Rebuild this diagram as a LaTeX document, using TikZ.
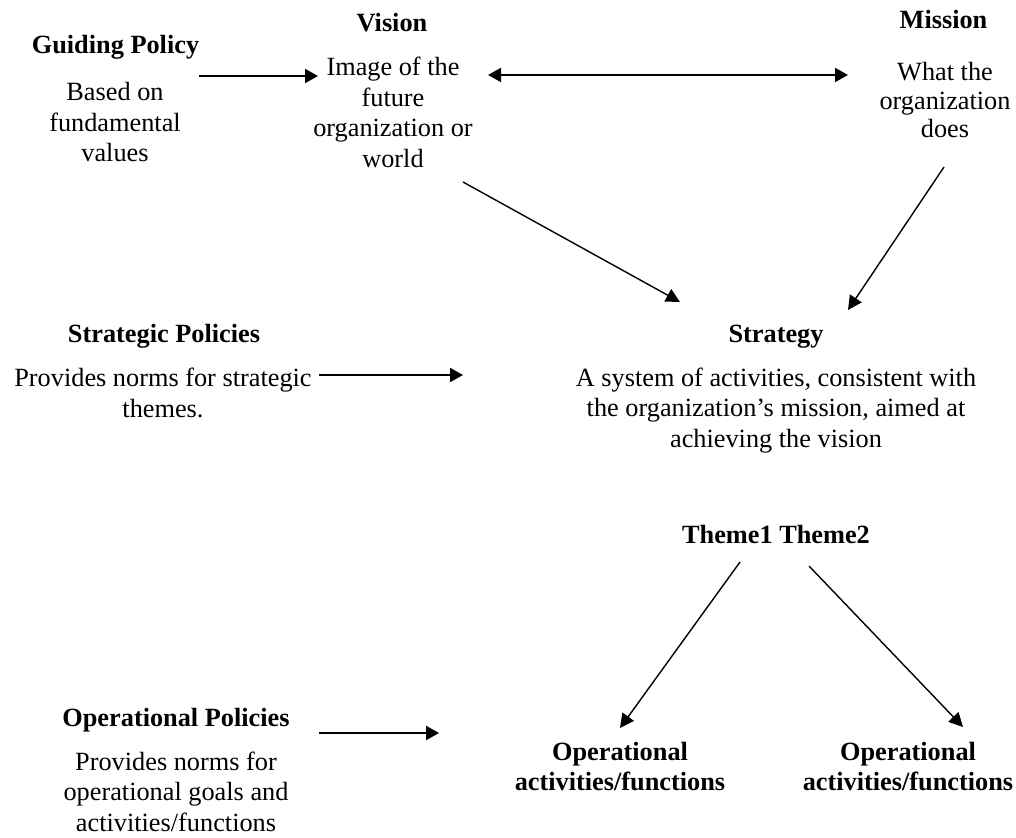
\documentclass[tikz,border=0pt]{standalone}
\usepackage{fontspec}
\setmainfont{Liberation Serif}
\usetikzlibrary{arrows.meta}
\begin{document}
\begin{tikzpicture}[x=1pt,y=-1pt,
  % multi-line nodes sit on the baseline of their last line
  txt/.style={anchor=base, align=center, inner sep=0pt,
    font=\fontsize{26.3}{30.5}\selectfont},
  tighttxt/.style={txt, font=\fontsize{26.3}{28.5}\selectfont},
  head/.style={txt, font=\fontsize{26.3}{30}\selectfont\bfseries},
  link/.style={-{Triangle[length=13pt,width=14pt]}, line width=2pt},
  twoway/.style={{Triangle[length=13pt,width=14pt]}-{Triangle[length=13pt,width=14pt]}, line width=2pt},
  slant/.style={-{Triangle[length=14pt,width=14pt]}, line width=1.4pt}]
\useasboundingbox (0,0) rectangle (1016,837);

% top row: guiding policy, vision, mission
\node[head] (gp)  at (115.5,54) {Guiding Policy};
\node[txt]  (gpt) at (115,162) {Based on\\fundamental\\values};
\node[head] (vis)  at (392,32) {Vision};
\node[txt]  (vist) at (393,167.5) {Image of the\\future\\organization or\\world};
\node[head] (mis)  at (943.5,29) {Mission};
\node[tighttxt] (mist) at (945,138) {What the\\organization\\does};

% middle row: strategic policies and strategy
\node[head] (sp)  at (164,342) {Strategic Policies};
\node[txt]  (spt) at (163,417) {Provides norms for strategic\\themes.};
\node[head] (st)  at (776,342) {Strategy};
\node[txt]  (stt) at (776,447) {A system of activities, consistent with\\the organization’s mission, aimed at\\achieving the vision};

% themes
\node[head] (th) at (776,543) {Theme1 Theme2};

% bottom row: operational policies and activities
\node[head] (op)  at (176,726) {Operational Policies};
\node[txt]  (opt) at (176,831) {Provides norms for\\operational goals and\\activities/functions};
\node[head] (oa1) at (620,790) {Operational\\activities/functions};
\node[head] (oa2) at (908,790) {Operational\\activities/functions};

% connector ends
\coordinate (gpR)  at (199,76);
\coordinate (visL) at (318,76);
\coordinate (visR) at (488,75);
\coordinate (misL) at (848,75);
\coordinate (visB) at (463,182);
\coordinate (stTL) at (680,302);
\coordinate (misB) at (944,167);
\coordinate (stTR) at (848,310);
\coordinate (spR)  at (319,375);
\coordinate (stL)  at (463,375);
\coordinate (th1)  at (740,562);
\coordinate (oa1T) at (620,728);
\coordinate (th2)  at (809,566);
\coordinate (oa2T) at (963,727);
\coordinate (opR)  at (319,733);
\coordinate (oaL)  at (439,733);

\draw[link] (gpR) -- (visL);
\draw[twoway] (visR) -- (misL);
\draw[slant] (visB) -- (stTL);
\draw[slant] (misB) -- (stTR);
\draw[link] (spR) -- (stL);
\draw[slant] (th1) -- (oa1T);
\draw[slant] (th2) -- (oa2T);
\draw[link] (opR) -- (oaL);
\end{tikzpicture}
\end{document}
